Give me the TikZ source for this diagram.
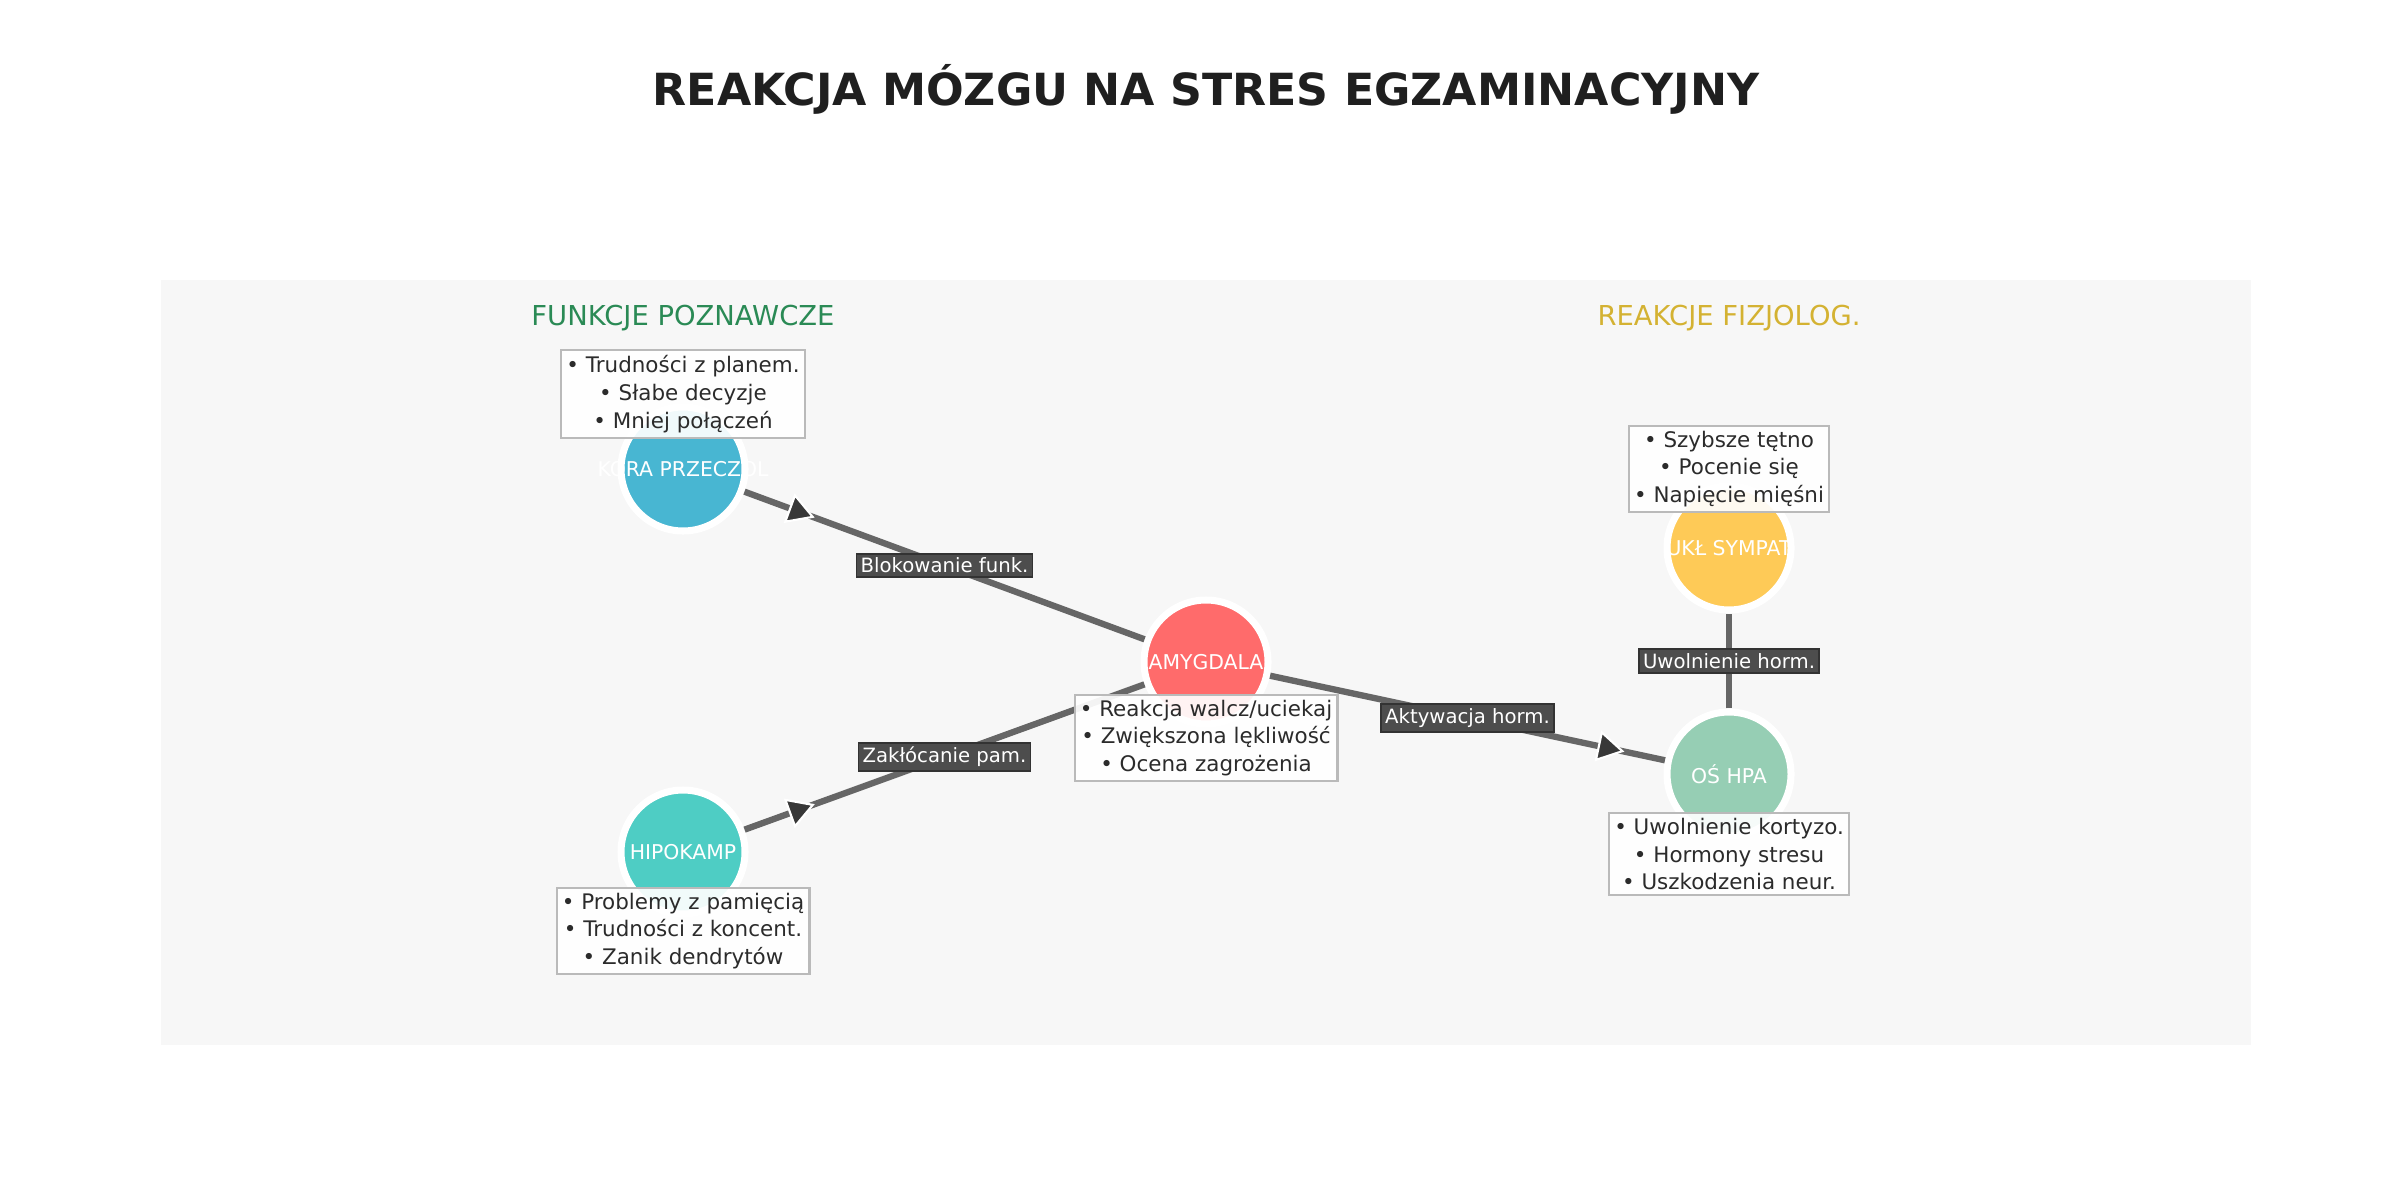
\documentclass[tikz,border=0pt]{standalone}
\usepackage{fontspec}
\setmainfont{DejaVu Sans}
\usetikzlibrary{arrows.meta,positioning,decorations.markings,calc}
\definecolor{korablue}{HTML}{48B6D2}
\definecolor{hipoteal}{HTML}{4ECDC4}
\definecolor{amygred}{HTML}{FF6B6B}
\definecolor{sympyellow}{HTML}{FECA57}
\definecolor{hpagreen}{HTML}{96CEB4}
\definecolor{panelgray}{HTML}{F7F7F7}
\definecolor{edgegray}{HTML}{666666}
\definecolor{labelgray}{HTML}{4D4D4D}
\definecolor{textdark}{HTML}{2B2B2B}
\definecolor{headgreen}{HTML}{2A8A55}
\definecolor{headgold}{HTML}{D4B232}
\newcommand{\infofont}{\fontsize{6.1}{7.9}\selectfont}
\newcommand{\labelfont}{\fontsize{5.6}{6.5}\selectfont}
\newcommand{\regionfont}{\fontsize{5.8}{6.5}\selectfont}
\tikzset{
  region/.style={circle, draw=white, line width=2pt, minimum size=1.24cm, inner sep=0pt},
  regiontext/.style={text=white, font=\regionfont, inner sep=0pt},
  infobox/.style={draw=black!27, line width=0.6pt, fill=white, fill opacity=0.92, text opacity=1, text=textdark, align=center, font=\infofont, inner sep=1.5pt},
  edgelabel/.style={draw=black!80, line width=0.5pt, fill=labelgray, text=white, font=\labelfont, inner sep=1.2pt},
  link/.style={draw=edgegray, line width=1.8pt},
  midarrow/.style={postaction={decorate, decoration={markings, mark=at position #1 with {\fill[draw=white, fill=black!78, line width=0.6pt] (0.13,0) -- (-0.11,0.14) -- (-0.11,-0.14) -- cycle;}}}}
}
\begin{document}
\begin{tikzpicture}
    \useasboundingbox (0,0) rectangle (24,12);
    % Title
    \node[font=\bfseries\fontsize{12.6}{15}\selectfont, text=black!88] (title) at (12.06,11.11) {REAKCJA MÓZGU NA STRES EGZAMINACYJNY};

    % Panel
    \fill[panelgray] (1.61,1.55) rectangle (22.51,9.20);
    \node[text=headgreen, font=\fontsize{7.8}{9}\selectfont] (cogh) at (6.83,8.82) {FUNKCJE POZNAWCZE};
    \node[text=headgold, font=\fontsize{7.8}{9}\selectfont] (physh) at (17.29,8.82) {REAKCJE FIZJOLOG.};

    % Brain regions
    \node[region, fill=korablue] (kora) at (6.83,7.31) {};
    \node[region, fill=hipoteal] (hipo) at (6.83,3.48) {};
    \node[region, fill=amygred] (amyg) at (12.06,5.38) {};
    \node[region, fill=sympyellow] (symp) at (17.29,6.52) {};
    \node[region, fill=hpagreen] (hpa) at (17.29,4.26) {};
    \node[regiontext] (koratxt) at (kora) {KORA PRZECZOL};
    \node[regiontext] (hipotxt) at (hipo) {HIPOKAMP};
    \node[regiontext] (amygtxt) at (amyg) {AMYGDALA};
    \node[regiontext] (symptxt) at (symp) {UKŁ SYMPAT};
    \node[regiontext] (hpatxt) at (hpa) {OŚ HPA};

    % Connections
    \draw[link, midarrow=0.14] (kora) -- node[edgelabel] (lblok) {Blokowanie funk.} (amyg);
    \draw[link, midarrow=0.14] (hipo) -- node[edgelabel] (lzakl) {Zakłócanie pam.} (amyg);
    \draw[link, midarrow=0.86] (amyg) -- node[edgelabel] (lakty) {Aktywacja horm.} (hpa);
    \draw[link] (hpa) -- node[edgelabel] (luwol) {Uwolnienie horm.} (symp);

    % Effects
    \node[infobox] (korainfo) at (6.83,8.06) {• Trudności z planem.\\• Słabe decyzje\\• Mniej połączeń};
    \node[infobox] (amyginfo) at (12.06,4.62) {• Reakcja walcz/uciekaj\\• Zwiększona lękliwość\\• Ocena zagrożenia};
    \node[infobox] (hipoinfo) at (6.83,2.69) {• Problemy z pamięcią\\• Trudności z koncent.\\• Zanik dendrytów};
    \node[infobox] (sympinfo) at (17.29,7.31) {• Szybsze tętno\\• Pocenie się\\• Napięcie mięśni};
    \node[infobox] (hpainfo) at (17.29,3.46) {• Uwolnienie kortyzo.\\• Hormony stresu\\• Uszkodzenia neur.};
\end{tikzpicture}
\end{document}
